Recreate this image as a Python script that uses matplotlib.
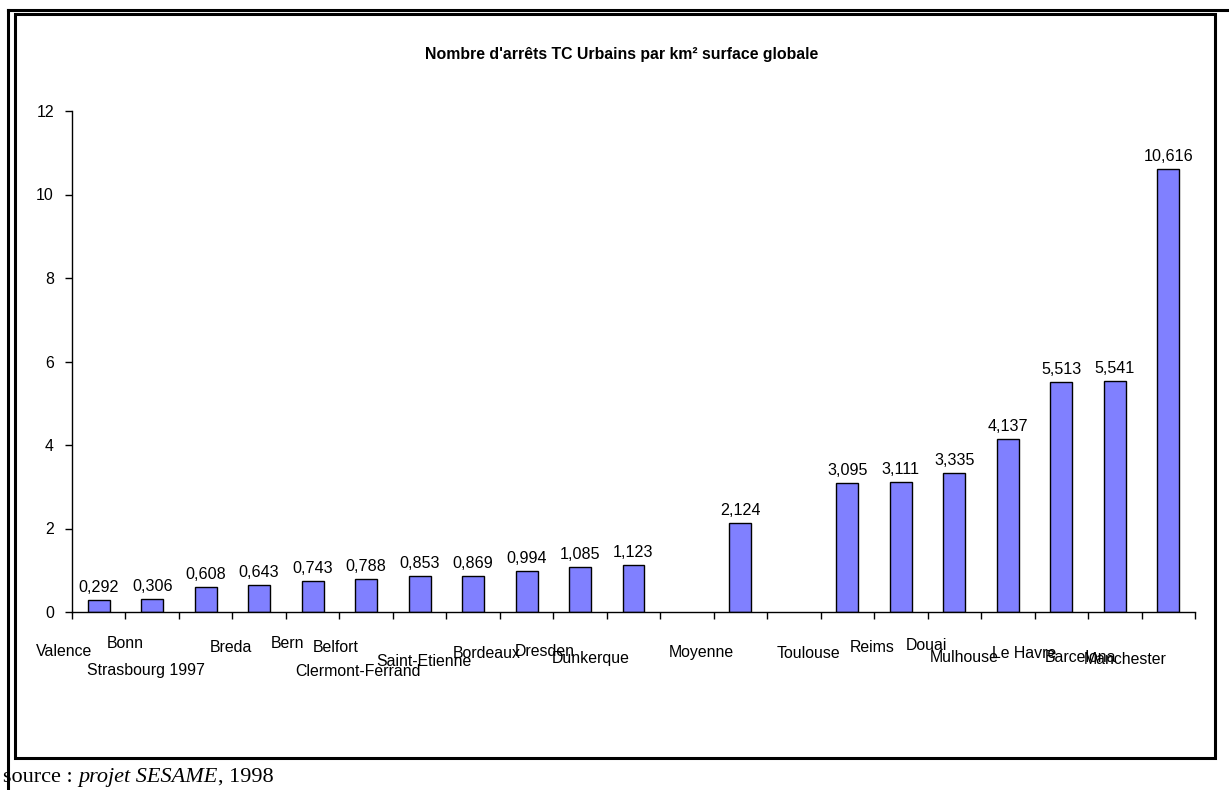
import matplotlib
matplotlib.use("Agg")
import matplotlib.pyplot as plt
from matplotlib.lines import Line2D
from matplotlib.patches import Rectangle

# valeurs : nombre d'arrêts TC urbains par km² (surface globale)
villes = ["Valence", "Bonn", "Strasbourg 1997", "Breda", "Bern", "Belfort",
          "Clermont-Ferrand", "Saint-Etienne", "Bordeaux", "Dresden", "Dunkerque",
          "", "Moyenne", "", "Toulouse", "Reims", "Douai", "Mulhouse",
          "Le Havre", "Barcelona", "Manchester"]
valeurs = [0.292, 0.306, 0.608, 0.643, 0.743, 0.788, 0.853, 0.869, 0.994, 1.085,
           1.123, None, 2.124, None, 3.095, 3.111, 3.335, 4.137, 5.513, 5.541, 10.616]
yticks = [0, 2, 4, 6, 8, 10, 12]

# décalage des étiquettes de catégorie (pixels, par rapport au centre de la barre)
decal = [(-35, -39), (-27, -32), (-60, -58), (-28, -35), (-25, -32), (-30, -36),
         (-62, -60), (-49, -50), (-40, -41), (-35, -39), (-43, -46),
         (0, 0), (-39, -41), (0, 0), (-39, -41), (-29, -36), (-28, -33), (-44, -46),
         (-37, -42), (-34, -45), (-43, -47)]

W, H = 1229, 790
fig = plt.figure(figsize=(W / 100, H / 100), dpi=100)
plt.rcParams['font.family'] = ['Liberation Sans', 'DejaVu Sans']

ax = fig.add_axes([72 / W, 1 - 612 / H, (1195 - 72) / W, (612 - 111) / H])

for i, v in enumerate(valeurs):
    if v is None:
        continue
    ax.bar(i, v, width=0.41, color='#8080ff', edgecolor='black', linewidth=1.0)
    ax.annotate(f"{v:.3f}".replace('.', ','), xy=(i, v), xytext=(0, 5),
                textcoords='offset pixels', ha='center', va='bottom', fontsize=11.6)

for i, nom in enumerate(villes):
    if not nom:
        continue
    dx, dy = decal[i]
    ax.annotate(nom, xy=(i, 0), xytext=(dx, dy), textcoords='offset pixels',
                ha='center', va='center', fontsize=11.4, annotation_clip=False)

ax.set_xlim(-0.5, len(villes) - 0.5)
ax.set_ylim(0, 12)
ax.set_yticks(yticks)
ax.set_yticklabels([str(t) for t in yticks], fontsize=11.4)
ax.set_xticks([i - 0.5 for i in range(len(villes) + 1)])
ax.set_xticklabels([])
ax.tick_params(axis='x', direction='out', length=5, width=1)
ax.tick_params(axis='y', direction='out', length=5, width=1, pad=8)
for s in ['top', 'right']:
    ax.spines[s].set_visible(False)
ax.spines['left'].set_linewidth(1)
ax.spines['bottom'].set_linewidth(1)

fig.text(622 / W, 1 - 55 / H, "Nombre d'arrêts TC Urbains par km² surface globale",
         ha='center', va='center', fontsize=11.4, fontweight='bold')

# cadres
def px(xp, yp):
    return xp / W, 1 - yp / H

x0, y0 = px(14.5, 14)
x1, y1 = px(1214.5, 758)
fig.add_artist(Rectangle((x0, y1), x1 - x0, y0 - y1, transform=fig.transFigure,
                         fill=False, edgecolor='black', linewidth=2.2))
fig.add_artist(Line2D([8 / W, 1], [1 - 10 / H] * 2, transform=fig.transFigure,
                      color='black', linewidth=2.2))
fig.add_artist(Line2D([8 / W] * 2, [1 - 10 / H, 0], transform=fig.transFigure,
                      color='black', linewidth=2.2))

# source
fig.canvas.draw()
r = fig.canvas.get_renderer()
xs = 3 / W
yb = 1 - 782 / H
for txt, style in [("source : ", 'normal'), ("projet SESAME", 'italic'), (", 1998", 'normal')]:
    t = fig.text(xs, yb, txt, ha='left', va='baseline', fontsize=16,
                 family='Liberation Serif', style=style)
    bb = t.get_window_extent(renderer=r)
    xs += bb.width / W

fig.savefig("out.png", dpi=100)
